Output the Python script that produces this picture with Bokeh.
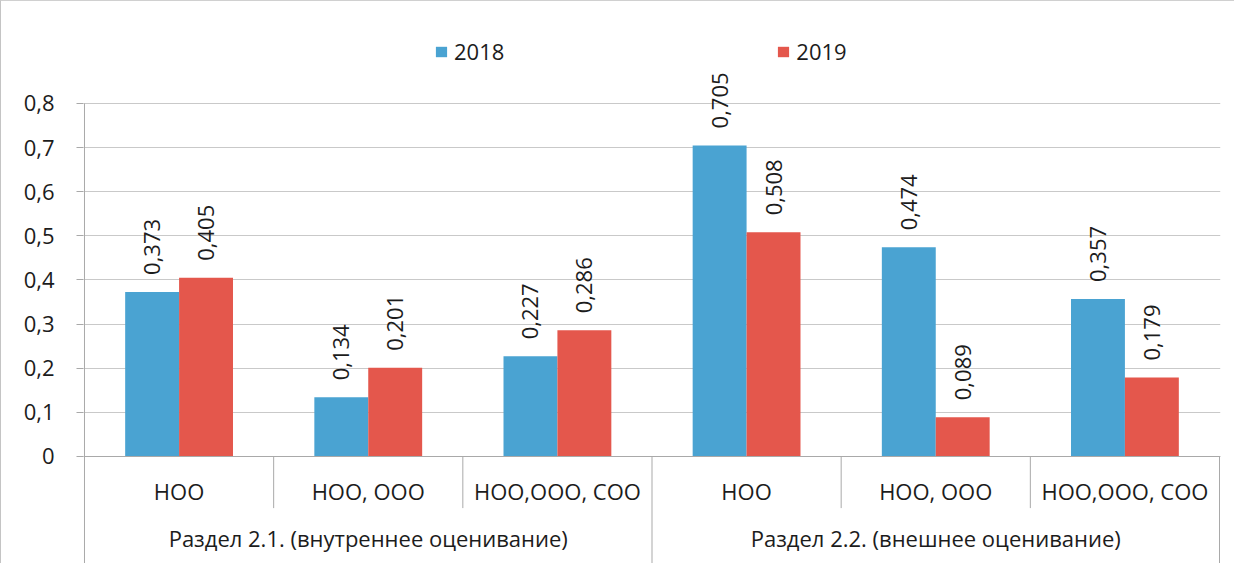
import math
from bokeh.plotting import figure
from bokeh.models import (FactorRange, Range1d, ColumnDataSource, FixedTicker,
                          Legend, LegendItem, CategoricalAxis, LinearAxis)
from bokeh.transform import dodge
from bokeh.core.properties import value
from bokeh.embed import file_html
from bokeh.resources import INLINE

# ---------------- data ----------------
groups = ["Раздел 2.1. (внутреннее оценивание)", "Раздел 2.2. (внешнее оценивание)"]
levels = ["НОО", "НОО, ООО", "НОО,ООО, СОО"]
years = ["2018", "2019"]
values_2018 = [0.373, 0.134, 0.227, 0.705, 0.474, 0.357]
values_2019 = [0.405, 0.201, 0.286, 0.508, 0.089, 0.179]
y_ticks = [0.0, 0.1, 0.2, 0.3, 0.4, 0.5, 0.6, 0.7, 0.8]
y_tick_labels = ["0", "0,1", "0,2", "0,3", "0,4", "0,5", "0,6", "0,7", "0,8"]

# ---------------- styles ----------------
FONT = "Open Sans"
TXT = "#1c1c1c"
BLUE = "#4AA3D2"
RED = "#E4574C"
GRID = "#c9c9c9"
SEP = "#a9a9a9"
BAR_W = 0.285
Y_BOTTOM = -0.2448
Y_TOP = 1.0062
INNER_SEP = -0.117

factors = [(g, l) for g in groups for l in levels]


def fmt(v):
    return f"{v:.3f}".replace(".", ",")


src = ColumnDataSource(data=dict(
    x=factors,
    v18=values_2018,
    v19=values_2019,
    t18=[fmt(v) for v in values_2018],
    t19=[fmt(v) for v in values_2019],
))

x_range = FactorRange(factors=factors, group_padding=0, factor_padding=0,
                      range_padding=0.00176)
y_range = Range1d(Y_BOTTOM, Y_TOP)

p = figure(width=1234, height=563, x_range=x_range, y_range=y_range,
           output_backend="svg", toolbar_location=None,
           x_axis_location=None, y_axis_location=None,
           min_border_left=82, min_border_right=15, min_border_top=11,
           min_border_bottom=0,
           styles={"border-left": "1px solid #c4c4c4",
                   "border-top": "1px solid #d0d0d0"})
p.outline_line_color = None
p.background_fill_color = "white"
p.border_fill_color = "white"
p.xgrid.visible = False

ticker = FixedTicker(ticks=y_ticks)
p.ygrid.ticker = ticker
p.ygrid.grid_line_color = GRID
p.ygrid.grid_line_width = 1

yax = LinearAxis(ticker=ticker)
yax.major_label_overrides = dict(zip(y_ticks, y_tick_labels))
yax.axis_line_color = None
yax.major_tick_in = 0
yax.major_tick_out = 7
yax.major_tick_line_color = SEP
yax.minor_tick_line_color = None
yax.major_label_standoff = 22
yax.major_label_text_font = FONT
yax.major_label_text_font_size = "22px"
yax.major_label_text_color = TXT
p.add_layout(yax, "left")

xax = CategoricalAxis(fixed_location=0)
xax.axis_line_color = SEP
xax.major_tick_line_color = None
xax.minor_tick_line_color = None
xax.separator_line_color = None
xax.major_label_standoff = 14
xax.major_label_text_font = FONT
xax.major_label_text_font_size = "22px"
xax.major_label_text_color = TXT
xax.group_text_font = FONT
xax.group_text_font_size = "22px"
xax.group_text_font_style = "normal"
xax.group_text_color = TXT
p.add_layout(xax, "below")

# separators of the category axis
n = len(factors)
per_group = len(levels)
sx, sy0, sy1 = [], [], []
for i in range(n + 1):
    sx.append(i)
    if i == 0:
        sy0.append(y_ticks[-1]); sy1.append(Y_BOTTOM)
    elif i % per_group == 0:
        sy0.append(0); sy1.append(Y_BOTTOM)
    else:
        sy0.append(0); sy1.append(INNER_SEP)
p.segment(x0=sx, y0=sy0, x1=sx, y1=sy1, line_color=SEP, line_width=1)

r18 = p.vbar(x=dodge("x", -BAR_W / 2, range=x_range), top="v18", width=BAR_W,
             source=src, fill_color=BLUE, line_color=None)
r19 = p.vbar(x=dodge("x", BAR_W / 2, range=x_range), top="v19", width=BAR_W,
             source=src, fill_color=RED, line_color=None)

for xoff, col in ((-BAR_W / 2, "18"), (BAR_W / 2, "19")):
    p.text(x=dodge("x", xoff, range=x_range), y="v" + col, text="t" + col,
           source=src, angle=math.pi / 2, text_align="left",
           text_baseline="middle", y_offset=-17,
           text_font=value(FONT), text_font_size="22px", text_color=TXT)

legend = Legend(items=[LegendItem(label=years[0], renderers=[r18]),
                       LegendItem(label=years[1], renderers=[r19])],
                orientation="horizontal", location=(351, 498),
                glyph_width=14, glyph_height=13, label_standoff=6,
                label_height=30, spacing=272, padding=0, margin=0,
                border_line_color=None, background_fill_alpha=0,
                label_text_font=FONT, label_text_font_size="22px",
                label_text_color=TXT)
p.add_layout(legend)

open("out.html", "w").write(file_html(p, INLINE))
